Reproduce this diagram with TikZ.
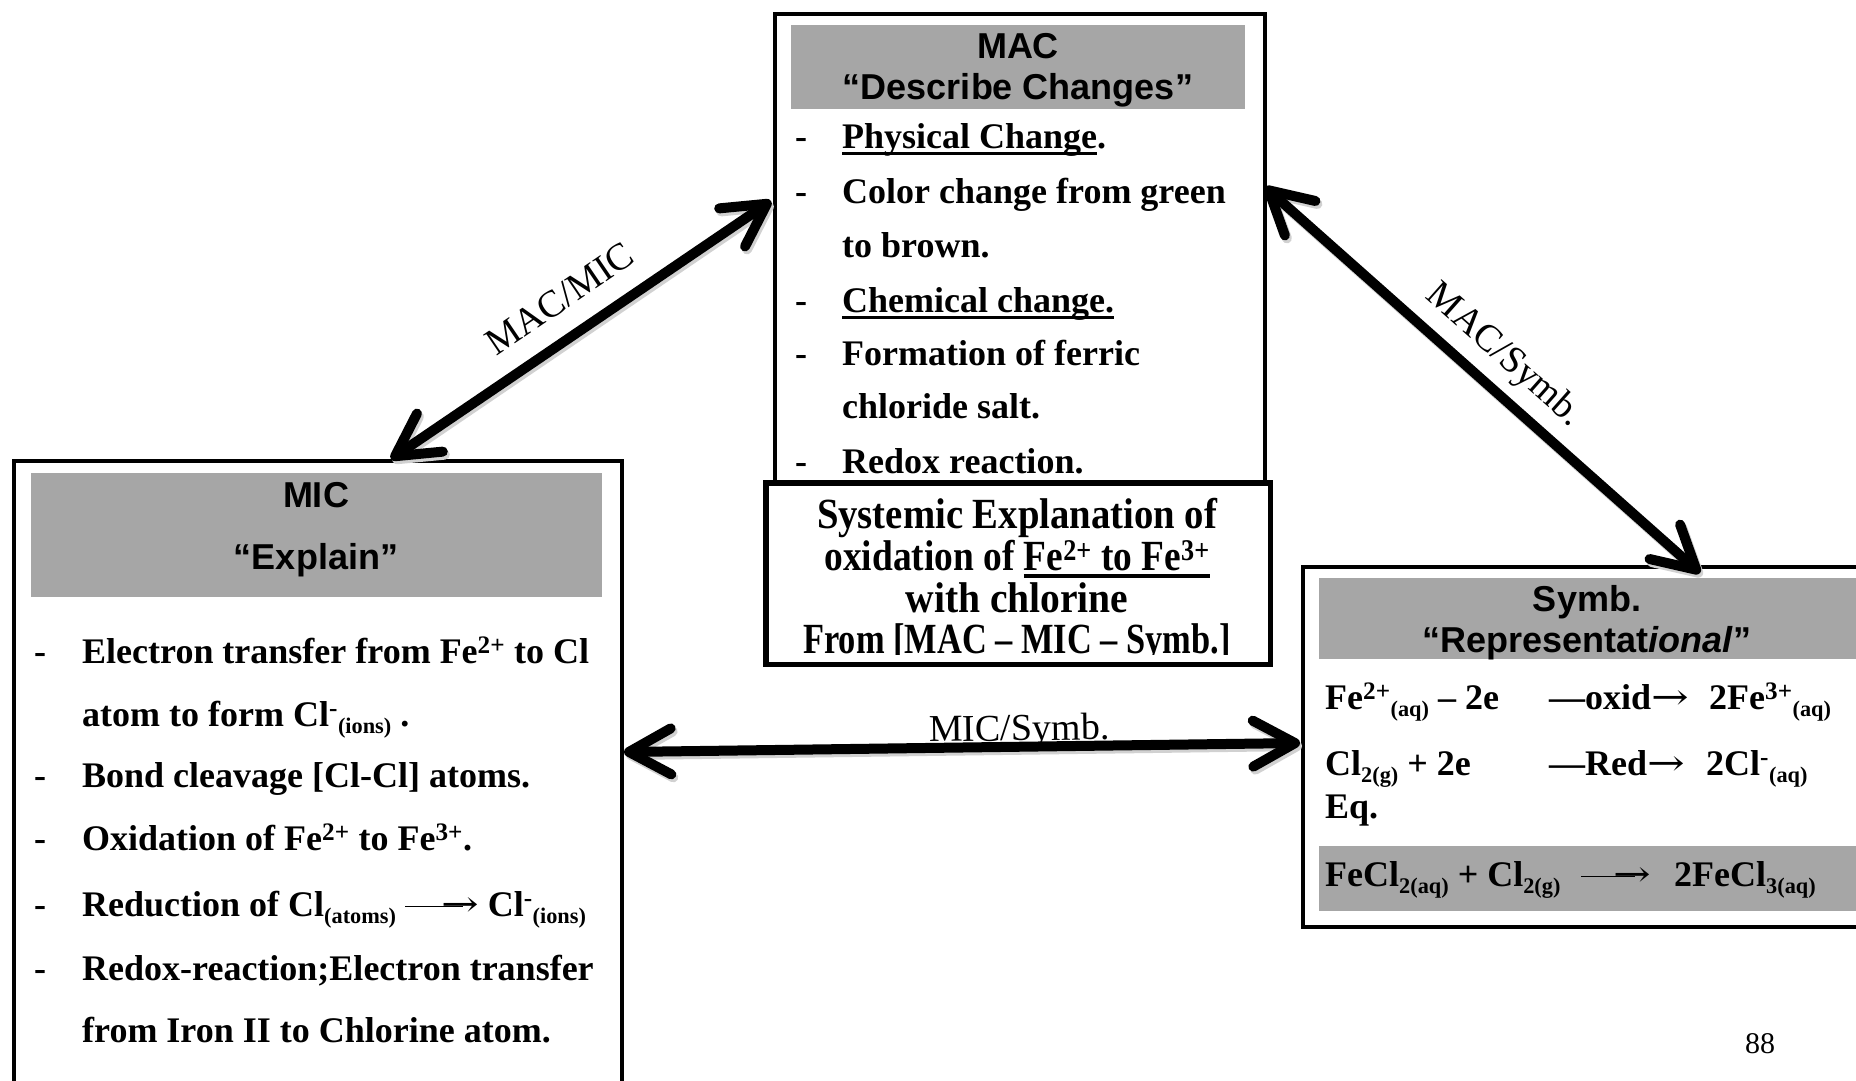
\documentclass[tikz,border=0pt]{standalone}
\usepackage{fontspec}
\setmainfont{Liberation Serif}
\newfontfamily\headfont{Liberation Sans}
\newfontfamily\arrowfont{DejaVu Serif}
\usetikzlibrary{arrows.meta}
\definecolor{hdrgray}{RGB}{166,166,166}
% thick underline that scales with the font
\newcommand{\thickul}[1]{\sbox0{#1}\rlap{\rule[-0.19em]{\wd0}{0.09em}}\usebox0}
% small chemical subscript
\newcommand{\lo}[1]{\raisebox{-0.2em}{\scalebox{0.62}{#1}}}
% reaction arrow glyph, slightly widened
\newcommand{\rarr}{\scalebox{1.25}[1]{\arrowfont\mdseries →}}
% long reaction arrow: a rule joined to the arrow glyph
\newcommand{\longarr}[1]{\sbox2{\rarr}\rule[\dimexpr(\ht2-\dp2)/2-0.022em\relax]{#1}{0.044em}\kern-0.6em\usebox2}

\tikzset{
  boxframe/.style={draw=black, line width=3.5pt, fill=white, inner sep=0pt, anchor=north west},
  greyband/.style={fill=hdrgray, draw=none, inner sep=0pt, anchor=north west},
  headtxt/.style={anchor=base, inner sep=0pt, font=\headfont\bfseries\fontsize{36}{36}\selectfont},
  bodytxt/.style={anchor=base west, inner sep=0pt, font=\bfseries\fontsize{36}{36}\selectfont},
  systxt/.style={anchor=base, inner sep=0pt, font=\bfseries\fontsize{43}{43}\selectfont},
  linklabel/.style={font=\fontsize{38}{38}\selectfont, inner sep=0pt},
  biarrow/.style={line width=10pt, {Straight Barb[length=42pt,width=46pt,round]}-{Straight Barb[length=42pt,width=46pt,round]}},
  arrowshadow/.style={biarrow, draw=black!18, transform canvas={shift={(2pt,-3pt)}}}
}

\begin{document}
\begin{tikzpicture}[x=1pt,y=-1pt]
\useasboundingbox (0,0) rectangle (1856,1080);
\fill[white] (0,0) rectangle (1856,1080);

% ---------- MAC box ----------
\node[boxframe, minimum width=490, minimum height=468] (mac) at (773,12) {};
\node[greyband, minimum width=454, minimum height=84] (macband) at (791,25) {};
\node[headtxt] (mach1) at (1018,58) {MAC};
\node[headtxt] (mach2) at (1018,99) {“Describe Changes”};
\foreach \yy [count=\i] in {148,203,312,365,473}
  \node[bodytxt] (macd\i) at (795,\yy) {-};
\node[bodytxt] (mac1) at (842,148) {\thickul{Physical Change}.};
\node[bodytxt] (mac2) at (842,203) {Color change from green};
\node[bodytxt] (mac3) at (842,257) {to brown.};
\node[bodytxt] (mac4) at (842,312) {\thickul{Chemical change.}};
\node[bodytxt] (mac5) at (842,365) {Formation of ferric};
\node[bodytxt] (mac6) at (842,418) {chloride salt.};
\node[bodytxt] (mac7) at (842,473) {Redox reaction.};

% ---------- MIC box ----------
\node[boxframe, minimum width=608, minimum height=660] (mic) at (12,459) {};
\node[greyband, minimum width=571, minimum height=124] (micband) at (31,473) {};
\node[headtxt] (mich1) at (316,507) {MIC};
\node[headtxt] (mich2) at (316,569) {“Explain”};
\foreach \yy [count=\i] in {663,787,850,916,980}
  \node[bodytxt] (micd\i) at (34,\yy) {-};
\node[bodytxt] (mic1) at (82,663) {Electron transfer from Fe\textsuperscript{2+} to Cl};
\node[bodytxt] (mic2) at (82,726) {atom to form Cl\textsuperscript{-}\lo{(ions)} .};
\node[bodytxt] (mic3) at (82,787) {Bond cleavage [Cl-Cl] atoms.};
\node[bodytxt] (mic4) at (82,850) {Oxidation of Fe\textsuperscript{2+} to Fe\textsuperscript{3+}.};
\node[bodytxt] (mic5) at (82,916) {Reduction of Cl\lo{(atoms)} \longarr{1.6em} Cl\textsuperscript{-}\lo{(ions)}};
\node[bodytxt] (mic6) at (82,980) {Redox-reaction;Electron transfer};
\node[bodytxt] (mic7) at (82,1042) {from Iron II to Chlorine atom.};

% ---------- Symb box ----------
\node[boxframe, minimum width=574, minimum height=360] (sym) at (1301,565) {};
\node[greyband, minimum width=545, minimum height=81] (symband) at (1319,578) {};
\node[greyband, minimum width=545, minimum height=65] (eqband) at (1319,846) {};
\node[headtxt] (symh1) at (1587,611) {Symb.};
\node[headtxt] (symh2) at (1587,652) {“Representat\textit{ional}”};
\node[bodytxt] (s1a) at (1325,709) {Fe\textsuperscript{2+}\lo{(aq)} – 2e};
\node[bodytxt] (s1b) at (1549,709) {—oxid\rarr};
\node[bodytxt] (s1c) at (1709,709) {2Fe\textsuperscript{3+}\lo{(aq)}};
\node[bodytxt] (s2a) at (1325,775) {Cl\lo{2(g)} + 2e};
\node[bodytxt] (s2b) at (1549,775) {—Red\rarr};
\node[bodytxt] (s2c) at (1706,775) {2Cl\textsuperscript{-}\lo{(aq)}};
\node[bodytxt] (s3) at (1325,818) {Eq.};
\node[bodytxt] (s4a) at (1325,886) {FeCl\lo{2(aq)} + Cl\lo{2(g)}};
\node[bodytxt] (s4b) at (1581,886) {\longarr{1.5em}};
\node[bodytxt] (s4c) at (1674,886) {2FeCl\lo{3(aq)}};

% ---------- Systemic explanation box ----------
\node[boxframe, minimum width=503, minimum height=180] (sys) at (765,482) {};
\begin{scope}
  \clip (767,484) rectangle (1266,654);
  \node[systxt] (sys1) at (1017,528) {\scalebox{0.9}[1]{Systemic Explanation of}};
  \node[systxt] (sys2) at (1017,570) {\scalebox{0.87}[1]{oxidation of \thickul{Fe\textsuperscript{2+} to Fe\textsuperscript{3+}}}};
  \node[systxt] (sys3) at (1017,612) {\scalebox{0.92}[1]{with chlorine}};
  \node[systxt] (sys4) at (1017,653) {\scalebox{0.8}[1]{From [MAC – MIC – Symb.]}};
\end{scope}
\draw[line width=3.5pt] (sys.north west) rectangle (sys.south east);

% ---------- connectors ----------
\coordinate (micTop) at (391,459);
\coordinate (macLeft) at (771,201);
\coordinate (macRight) at (1265,187);
\coordinate (symTop) at (1700,573);
\coordinate (micRight) at (624,752);
\coordinate (symLeft) at (1300,743);

% soft shadows under the double arrows
\draw[arrowshadow] (micTop) -- (macLeft);
\draw[arrowshadow] (macRight) -- (symTop);
\draw[arrowshadow] (micRight) -- (symLeft);

\draw[biarrow] (micTop) -- (macLeft)
  node[linklabel, midway, sloped, above=20pt] (lab1) {MAC/MIC};
\draw[biarrow] (macRight) -- (symTop)
  node[linklabel, midway, sloped, above=10pt] (lab2) {MAC/Symb.};
\draw[biarrow] (micRight) -- (symLeft)
  node[linklabel, pos=0.585, sloped, anchor=base, yshift=6pt] (lab3) {MIC/Symb.};

% page number
\node[font=\fontsize{30}{30}\selectfont, inner sep=0pt] (pg) at (1760,1044) {88};
\end{tikzpicture}
\end{document}
